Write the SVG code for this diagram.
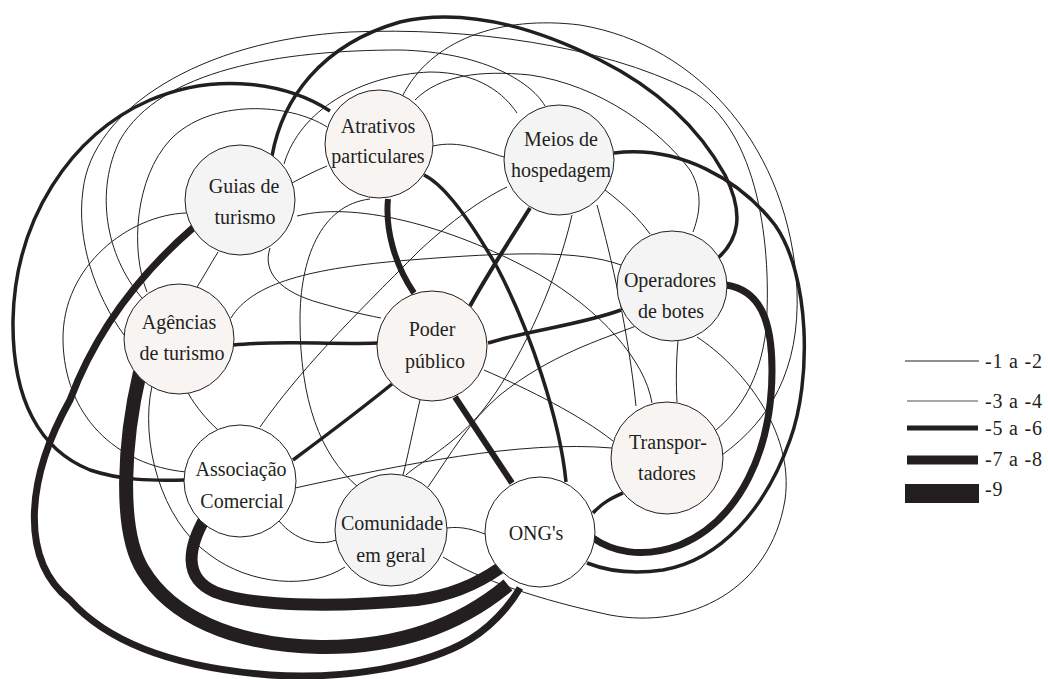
<svg xmlns="http://www.w3.org/2000/svg" width="1048" height="679" viewBox="0 0 1048 679">
<style>
.t{fill:none;stroke:#231f20;stroke-width:1}
.k{fill:none;stroke:#231f20}
.n{stroke:#231f20;stroke-width:1}
.a{fill:#f8f4f2}.g{fill:#f4f4f4}.w{fill:#fff}
text{font-size:20px;fill:#231f20;text-anchor:middle}
.lg{text-anchor:start;font-size:20px;letter-spacing:0.8px}
</style>
<rect width="1048" height="679" fill="#fff"/>
<g id="connectors">
<path class="t" d="M433,146 C460,140 480,150 504,157"/>
<path class="t" d="M292,183 C305,176 315,171 327,166"/>
<path class="t" d="M218,252 C210,265 204,276 197,287"/>
<path class="t" d="M188,393 C196,407 207,420 218,430"/>
<path class="t" d="M279,521 C295,540 318,547 336,540"/>
<path class="t" d="M447,528 C462,526 474,530 485,534"/>
<path class="t" d="M678,341 C676,362 676,385 677,402"/>
<path class="t" d="M605,190 C625,205 640,220 650,234"/>
<path class="t" d="M420,400 C413,430 408,455 403,475"/>
<path class="t" d="M270,248 C262,272 280,292 320,303 C345,310 360,314 381,318"/>
<path class="t" d="M186,213 C130,215 62,265 63,340 C64,415 115,465 186,472"/>
<path class="t" d="M327,127 C290,103 210,98 170,140 C135,178 130,250 147,292"/>
<path class="t" d="M370,199 C320,205 300,260 300,320 C300,400 320,455 358,487"/>
<path class="t" d="M297,216 C360,200 460,230 540,275 C600,310 645,360 652,403"/>
<path class="t" d="M231,318 C252,283 310,268 410,260 C510,252 580,250 621,265"/>
<path class="t" d="M260,427 C300,370 350,320 420,250 C460,213 490,195 507,187"/>
<path class="t" d="M428,487 C450,455 470,420 500,395 C550,355 600,340 636,326"/>
<path class="t" d="M572,215 C555,290 515,370 483,410 C455,445 420,462 406,475"/>
<path class="t" d="M597,205 C612,260 628,330 636,406"/>
<path class="t" d="M484,370 C530,390 580,415 613,441"/>
<path class="t" d="M295,488 C400,465 520,440 612,448"/>
<path class="t" d="M443,557 C480,580 540,600 610,615 C690,630 770,590 785,500 C795,430 740,365 697,337"/>
<path class="t" d="M152,386 C140,440 160,520 210,555 C250,585 310,590 345,567"/>
<path class="t" d="M415,100 C440,75 480,70 530,75 C600,85 660,130 690,170 C705,195 698,218 693,232"/>
<path class="t" d="M402,97 C430,40 500,15 580,25 C700,45 790,150 797,290 C800,370 770,420 722,455"/>
<path class="t" d="M124,335 C95,295 76,240 83,190 C92,110 200,40 350,32 C470,27 600,45 690,90 C760,130 772,250 766,330 C760,380 740,410 716,430"/>
<path class="t" d="M284,164 C300,110 360,75 430,72 C480,72 505,95 517,113"/>
<path class="t" d="M142,298 C105,255 95,190 120,140 C160,70 280,50 400,50 C480,52 530,80 545,106"/>
<path class="k" stroke-width="3.5" d="M272,156 C282,100 320,45 400,22 C460,8 530,25 600,60 C660,90 700,130 725,175 C745,215 738,240 718,258"/>
<path class="k" stroke-width="3.5" d="M330,111 C290,85 220,70 150,100 C70,135 15,220 13,320 C12,400 40,450 90,470 C120,480 150,481 185,480"/>
<path class="k" stroke-width="3.5" d="M614,153 C680,145 740,180 775,225 C810,275 812,380 790,440 C765,510 720,560 663,570 C630,575 605,570 587,563"/>
<path class="k" stroke-width="7" d="M726,285 C760,290 772,320 772,370 C772,450 740,520 680,545 C640,560 610,550 593,538"/>
<path class="k" stroke-width="7" d="M194,227 C150,265 100,320 70,400 C25,480 20,560 70,600 C110,645 180,668 270,675 C350,680 420,665 460,645 C490,630 510,605 520,588"/>
<path class="k" stroke-width="6" d="M388,199 C385,230 395,265 414,293"/>
<path class="k" stroke-width="3.5" d="M424,175 C445,185 470,220 497,267 C530,330 560,420 566,482"/>
<path class="k" stroke-width="4" d="M530,208 C510,240 490,270 470,306"/>
<path class="k" stroke-width="3.5" d="M233,345 C280,340 330,345 378,343"/>
<path class="k" stroke-width="3.5" d="M488,343 C530,330 580,325 621,310"/>
<path class="k" stroke-width="3.5" d="M392,384 C360,410 320,440 293,460"/>
<path class="k" stroke-width="6" d="M455,397 L512,483"/>
<path class="k" stroke-width="3.5" d="M593,513 C603,502 612,498 623,493"/>
<path class="k" stroke-width="12" d="M205,518 C188,548 183,578 215,592 C250,606 330,608 417,600 C455,595 480,582 500,568"/>
<path class="k" stroke-width="14" d="M140,372 C124,440 118,530 143,570 C170,615 230,645 320,647 C400,648 460,625 508,585"/>
</g>
<g font-family="'Liberation Serif','DejaVu Serif','Noto Serif',serif">
<g id="node-atrativos"><circle class="n a" cx="379" cy="144" r="54"/><text x="378" y="133">Atrativos</text><text x="378" y="163">particulares</text></g>
<g id="node-guias"><circle class="n g" cx="240" cy="200" r="55"/><text x="244" y="193">Guias de</text><text x="245" y="224">turismo</text></g>
<g id="node-meios"><circle class="n g" cx="559" cy="160" r="55"/><text x="561" y="146">Meios de</text><text x="561" y="177">hospedagem</text></g>
<g id="node-operadores"><circle class="n g" cx="672" cy="286" r="55"/><text x="670" y="287">Operadores</text><text x="671" y="318">de botes</text></g>
<g id="node-agencias"><circle class="n a" cx="179" cy="339" r="55"/><text x="179" y="329">Agências</text><text x="182" y="360">de turismo</text></g>
<g id="node-poder"><circle class="n a" cx="432" cy="346" r="55"/><text x="432" y="336">Poder</text><text x="435" y="368">público</text></g>
<g id="node-associacao"><circle class="n w" cx="240" cy="481" r="56"/><text x="241" y="476">Associação</text><text x="242" y="508">Comercial</text></g>
<g id="node-comunidade"><circle class="n g" cx="391" cy="530" r="56"/><text x="392" y="530">Comunidade</text><text x="391" y="562">em geral</text></g>
<g id="node-ongs"><circle class="n w" cx="540" cy="532" r="55"/><text x="536" y="540">ONG's</text></g>
<g id="node-transportadores"><circle class="n a" cx="667" cy="458" r="56"/><text x="668" y="449">Transpor-</text><text x="667" y="480">tadores</text></g>
<g id="legend">
<line x1="905" y1="361" x2="979" y2="361" stroke="#231f20" stroke-width="1"/>
<line x1="907" y1="401" x2="978" y2="401" stroke="#8a8a8a" stroke-width="1.3"/>
<line x1="907" y1="428" x2="978" y2="428" stroke="#231f20" stroke-width="5"/>
<line x1="907" y1="460" x2="978" y2="460" stroke="#231f20" stroke-width="9"/>
<rect x="905" y="484" width="74" height="19" fill="#231f20"/>
<text class="lg" x="985" y="368">-1 a -2</text>
<text class="lg" x="985" y="408">-3 a -4</text>
<text class="lg" x="985" y="435">-5 a -6</text>
<text class="lg" x="985" y="466">-7 a -8</text>
<text class="lg" x="985" y="496">-9</text>
</g>
</g>
</svg>
